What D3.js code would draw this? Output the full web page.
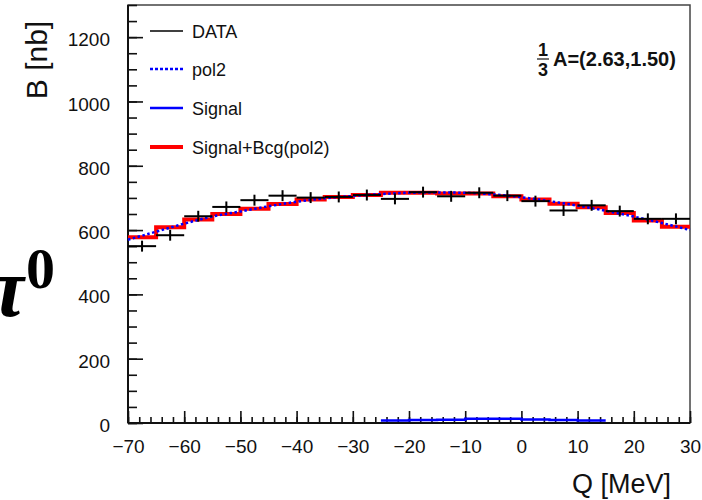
<!DOCTYPE html>
<html>
<head>
<meta charset="utf-8">
<script src="https://cdn.jsdelivr.net/npm/d3@7"></script>
<style>
body { margin: 0; background: #fff; }
svg { display: block; font-family: "Liberation Sans", Arial, sans-serif; }
</style>
</head>
<body>
<div id="chart"></div>
<script>
// bin centres of the 5 MeV histogram bins
const qCenters = [-67.5, -62.5, -57.5, -52.5, -47.5, -42.5, -37.5, -32.5, -27.5, -22.5,
                  -17.5, -12.5, -7.5, -2.5, 2.5, 7.5, 12.5, 17.5, 22.5, 27.5]
const BIN = 5

// DATA points and their errors
const dataB   = [550, 584, 643, 672, 693, 707, 701, 703, 709, 697,
                 718, 705, 716, 707, 690, 661, 677, 659, 635, 635]
const dataErr = [17, 17, 17, 17, 17, 17, 17, 17, 17, 17,
                 17, 17, 17, 17, 17, 17, 17, 17, 17, 17]

// Signal+Bcg(pol2) histogram
const sumB = [578, 609, 633, 650, 666, 681, 695, 703, 709, 716,
              716, 714, 714, 705, 695, 682, 671, 653, 630, 610]

// pol2 background curve, read at these Q values
const polQ = [-70, -65, -60, -55, -50, -45, -40, -35, -30, -25, -20,
              -15, -10, -5, 0, 5, 10, 15, 20, 25, 30]
const polB = [570, 595, 620, 642, 658, 674, 688, 699, 706, 712, 716,
              717, 716, 711, 702, 690, 676, 660, 642, 622, 600]

// Signal histogram
const sigQ = [-22.5, -17.5, -12.5, -7.5, -2.5, 2.5, 7.5, 12.5]
const sigB = [8, 9, 10, 13, 13, 11, 9, 8]

const legendLabels = ["DATA", "pol2", "Signal", "Signal+Bcg(pol2)"]
const yTickVals = [0, 200, 400, 600, 800, 1000, 1200]

const W = 702, H = 500
const svg = d3.select("#chart").append("svg")
    .attr("width", W).attr("height", H)

const x = d3.scaleLinear().domain([-70, 30]).range([128, 690])
const y = d3.scaleLinear().domain([0, 1300]).range([423, 5])

// pi0 label, cut by the left edge like in the original slide
svg.append("text")
    .attr("x", 24).attr("y", 316)
    .attr("text-anchor", "end")
    .style("font-family", "'Liberation Serif', 'DejaVu Serif', serif")
    .style("font-weight", "bold").style("font-style", "italic")
    .style("font-size", "84px")
    .text("π")
svg.append("text")
    .attr("x", 26).attr("y", 288)
    .style("font-family", "'Liberation Serif', 'DejaVu Serif', serif")
    .style("font-weight", "bold")
    .style("font-size", "58px")
    .text("0")

// frame
svg.append("rect")
    .attr("x", x(-70)).attr("y", y(1300))
    .attr("width", x(30) - x(-70)).attr("height", y(0) - y(1300))
    .attr("fill", "none").attr("stroke", "#444").attr("stroke-width", 1.5)

// axes: major + minor, ticks pointing into the frame
const xMinor = svg.append("g").attr("transform", `translate(0, ${y(0)})`)
    .call(d3.axisBottom(x).ticks(50).tickSize(-6).tickFormat(""))
const xMajor = svg.append("g").attr("transform", `translate(0, ${y(0)})`)
    .call(d3.axisBottom(x).ticks(10).tickSize(-12).tickPadding(17))
const yMinor = svg.append("g").attr("transform", `translate(${x(-70)}, 0)`)
    .call(d3.axisLeft(y).ticks(26).tickSize(-9).tickFormat(""))
const yMajor = svg.append("g").attr("transform", `translate(${x(-70)}, 0)`)
    .call(d3.axisLeft(y).tickValues(yTickVals).tickFormat(d3.format("d")).tickSize(-15).tickPadding(18))

;[xMinor, xMajor, yMinor, yMajor].forEach(g => {
    g.select(".domain").remove()
    g.selectAll(".tick line").attr("stroke", "#111").attr("stroke-width", 1.6)
    g.selectAll(".tick text").attr("fill", "#111").style("font-size", "19px")
})
yMajor.selectAll(".tick text").attr("dy", "0.45em")

// solid left & bottom axis lines
svg.append("line").attr("x1", x(-70)).attr("x2", x(30)).attr("y1", y(0)).attr("y2", y(0))
    .attr("stroke", "#111").attr("stroke-width", 2)
svg.append("line").attr("x1", x(-70)).attr("x2", x(-70)).attr("y1", y(0)).attr("y2", y(1300))
    .attr("stroke", "#111").attr("stroke-width", 2)

// axis titles
svg.append("text")
    .attr("transform", `translate(47, 60) rotate(-90)`)
    .attr("text-anchor", "middle")
    .style("font-size", "30px").attr("fill", "#111")
    .text("B [nb]")
svg.append("text")
    .attr("x", 671).attr("y", 493)
    .attr("text-anchor", "end")
    .style("font-size", "27px").attr("fill", "#111")
    .text("Q [MeV]")

// step path builder for histograms
function stepPath(centers, vals) {
    const pts = []
    centers.forEach((c, i) => {
        pts.push([x(c - BIN / 2), y(vals[i])])
        pts.push([x(c + BIN / 2), y(vals[i])])
    })
    return d3.line()(pts)
}

// Signal+Bcg histogram (red)
svg.append("path")
    .attr("d", stepPath(qCenters, sumB))
    .attr("fill", "none").attr("stroke", "#ff0000").attr("stroke-width", 4)

// pol2 (blue dotted)
svg.append("path")
    .datum(polQ.map((q, i) => [q, polB[i]]))
    .attr("d", d3.line().x(d => x(d[0])).y(d => y(d[1])).curve(d3.curveMonotoneX))
    .attr("fill", "none").attr("stroke", "#0000ff").attr("stroke-width", 2.5)
    .attr("stroke-dasharray", "2.5,2.5")

// Signal (blue)
svg.append("path")
    .attr("d", stepPath(sigQ, sigB))
    .attr("fill", "none").attr("stroke", "#0000ff").attr("stroke-width", 2.5)

// DATA points
const pts = svg.append("g").selectAll("g").data(qCenters).enter().append("g")
pts.append("line")
    .attr("x1", d => x(d - BIN / 2)).attr("x2", d => x(d + BIN / 2))
    .attr("y1", (d, i) => y(dataB[i])).attr("y2", (d, i) => y(dataB[i]))
    .attr("stroke", "#000").attr("stroke-width", 2)
pts.append("line")
    .attr("x1", d => x(d)).attr("x2", d => x(d))
    .attr("y1", (d, i) => y(dataB[i] - dataErr[i])).attr("y2", (d, i) => y(dataB[i] + dataErr[i]))
    .attr("stroke", "#000").attr("stroke-width", 2)

// legend
const legY = [31, 69, 108, 147]
const leg = svg.append("g")
legendLabels.forEach((lab, i) => {
    const ln = leg.append("line")
        .attr("x1", 150).attr("x2", 183).attr("y1", legY[i]).attr("y2", legY[i])
    if (i === 0) ln.attr("stroke", "#000").attr("stroke-width", 1.5)
    if (i === 1) ln.attr("stroke", "#0000ff").attr("stroke-width", 2.5).attr("stroke-dasharray", "3,2")
    if (i === 2) ln.attr("stroke", "#0000ff").attr("stroke-width", 2.5)
    if (i === 3) ln.attr("stroke", "#ff0000").attr("stroke-width", 4)
    leg.append("text")
        .attr("x", 192).attr("y", legY[i] + 7)
        .style("font-size", "18px").attr("fill", "#111")
        .text(lab)
})

// fit parameter note
const note = svg.append("g").style("font-weight", "bold").attr("fill", "#111")
note.append("text").attr("x", 543).attr("y", 56).attr("text-anchor", "middle")
    .style("font-size", "18px").text("1")
note.append("line").attr("x1", 537).attr("x2", 549).attr("y1", 59).attr("y2", 59)
    .attr("stroke", "#111").attr("stroke-width", 1.2)
note.append("text").attr("x", 543).attr("y", 76).attr("text-anchor", "middle")
    .style("font-size", "18px").text("3")
note.append("text").attr("x", 553).attr("y", 66)
    .style("font-size", "20px").text("A=(2.63,1.50)")
</script>
</body>
</html>
